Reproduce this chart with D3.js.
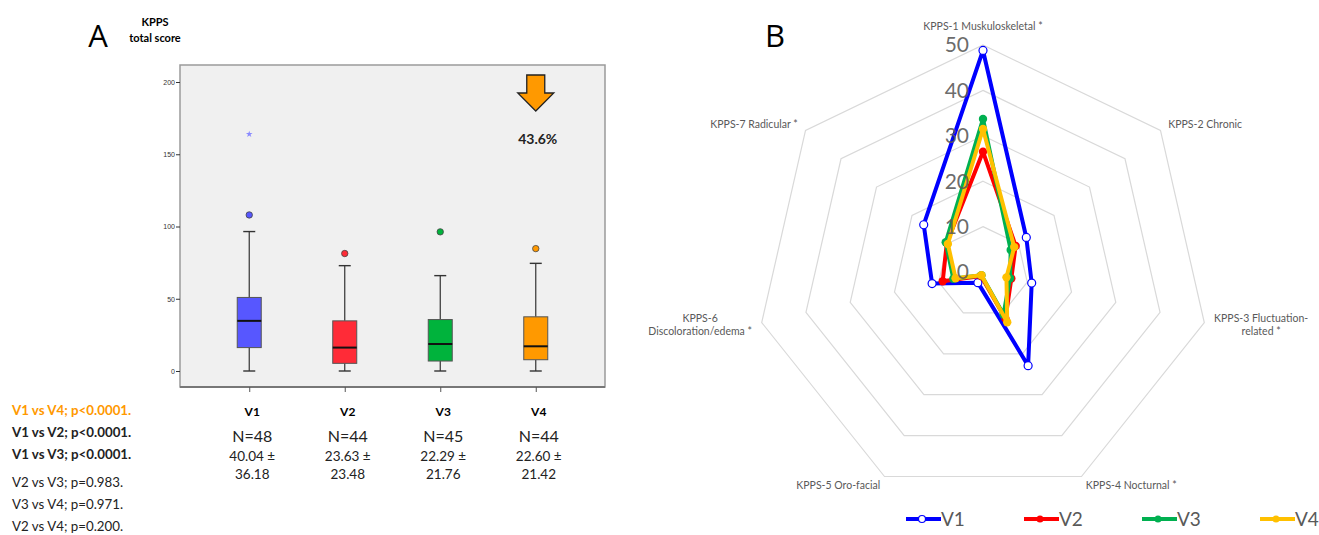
<!DOCTYPE html>
<html>
<head>
<meta charset="utf-8">
<script src="https://cdn.jsdelivr.net/npm/d3@7"></script>
<style>
    html, body { margin: 0; padding: 0; background: #fff; }
    svg { display: block; font-family: Lato, "Open Sans", sans-serif; }
</style>
</head>
<body>
<svg id="chart" width="1319" height="535"></svg>
<script>
// ---- panel A data (box plot of KPPS total score) ----
var visits = ["V1", "V2", "V3", "V4"];
var boxMin = [0, 0, 0, 0];
var boxQ1 = [16.2, 5.3, 6.9, 7.8];
var boxMedian = [34.7, 16.2, 18.7, 17.1];
var boxQ3 = [50.9, 34.7, 35.6, 37.5];
var boxMax = [96.5, 72.9, 66, 74.5];
var outliers = [[108], [81.3], [96.3], [84.7]];
var extremes = [[163.9], [], [], []];
var boxColors = ["#5757ff", "#ff2b37", "#00b33c", "#ff9900"];
var yTicks = [0, 50, 100, 150, 200];
var nCounts = [48, 44, 45, 44];
var means = ["40.04", "23.63", "22.29", "22.60"];
var sds = ["36.18", "23.48", "21.76", "21.42"];
var reduction = "43.6%";
var comparisons = ["V1 vs V4; p<0.0001.", "V1 vs V2; p<0.0001.", "V1 vs V3; p<0.0001.",
                   "V2 vs V3; p=0.983.", "V3 vs V4; p=0.971.", "V2 vs V4; p=0.200."];
var comparisonKind = ["highlight", "sig", "sig", "ns", "ns", "ns"];

// ---- panel B data (radar of KPPS domains) ----
var domains = [["KPPS-1 Muskuloskeletal *"], ["KPPS-2 Chronic"], ["KPPS-3 Fluctuation-", "related *"],
               ["KPPS-4 Nocturnal *"], ["KPPS-5 Oro-facial"], ["KPPS-6", "Discoloration/edema *"],
               ["KPPS-7 Radicular *"]];
var v1Scores = [48.8, 12.2, 11.0, 22.9, 2.6, 11.5, 16.7];
var v2Scores = [26.5, 9.2, 6.4, 11.4, 1.0, 9.1, 10.2];
var v3Scores = [33.7, 7.8, 6.1, 10.4, 0.8, 6.7, 10.5];
var v4Scores = [31.5, 8.8, 5.3, 12.3, 0.8, 6.2, 9.9];
var radarTicks = [0, 10, 20, 30, 40, 50];
var lineColors = ["#0000ff", "#ff0000", "#00b050", "#ffc000"];

var svg = d3.select("#chart");

// =================== panel A ===================
function drawBoxPanel() {
    var frame = { left: 180, right: 605, top: 65, bottom: 387 };
    var x = d3.scalePoint().domain(visits).range([frame.left, frame.right]).padding(0.725);
    var y = d3.scaleLinear().domain([0, 200]).range([371, 82]);

    svg.append("text").attr("x", 98).attr("y", 47).attr("text-anchor", "middle")
        .style("font-size", "31px").style("font-family", "'Open Sans', sans-serif").text("A");
    svg.append("text").attr("x", 155).attr("y", 26).attr("text-anchor", "middle")
        .style("font-size", "11px").style("font-weight", "bold").text("KPPS");
    svg.append("text").attr("x", 155).attr("y", 42).attr("text-anchor", "middle")
        .style("font-size", "11px").style("font-weight", "bold").text("total score");

    svg.append("rect").attr("x", frame.left).attr("y", frame.top)
        .attr("width", frame.right - frame.left).attr("height", frame.bottom - frame.top)
        .attr("fill", "#f0f0f0").attr("stroke", "#9a9a9a").attr("stroke-width", 1.5);
    svg.append("line").attr("x1", frame.left).attr("x2", frame.right)
        .attr("y1", frame.bottom).attr("y2", frame.bottom)
        .attr("stroke", "#777").attr("stroke-width", 2);

    // y axis
    var yAxis = svg.append("g").attr("transform", "translate(" + frame.left + ",0)")
        .call(d3.axisLeft(y).tickValues(yTicks).tickSize(4).tickPadding(1));
    yAxis.select(".domain").remove();
    yAxis.selectAll("line").attr("stroke", "#333");
    yAxis.selectAll("text").style("font-size", "7px").style("font-family", "'Liberation Sans', sans-serif").attr("fill", "#333");

    // x ticks
    var xAxis = svg.append("g").attr("transform", "translate(0," + frame.bottom + ")")
        .call(d3.axisBottom(x).tickSize(5).tickFormat(""));
    xAxis.select(".domain").remove();
    xAxis.selectAll("line").attr("stroke", "#555");

    var boxW = 24, capW = 12;
    visits.forEach(function (v, i) {
        var cx = x(v);
        var g = svg.append("g");
        // whiskers
        g.append("line").attr("x1", cx).attr("x2", cx).attr("y1", y(boxMax[i])).attr("y2", y(boxQ3[i]))
            .attr("stroke", "#333").attr("stroke-width", 1.2);
        g.append("line").attr("x1", cx).attr("x2", cx).attr("y1", y(boxQ1[i])).attr("y2", y(boxMin[i]))
            .attr("stroke", "#333").attr("stroke-width", 1.2);
        [boxMax[i], boxMin[i]].forEach(function (val) {
            g.append("line").attr("x1", cx - capW / 2).attr("x2", cx + capW / 2)
                .attr("y1", y(val)).attr("y2", y(val)).attr("stroke", "#333").attr("stroke-width", 1.4);
        });
        g.append("rect").attr("x", cx - boxW / 2).attr("y", y(boxQ3[i]))
            .attr("width", boxW).attr("height", y(boxQ1[i]) - y(boxQ3[i]))
            .attr("fill", boxColors[i]).attr("stroke", "#555").attr("stroke-width", 1);
        g.append("line").attr("x1", cx - boxW / 2).attr("x2", cx + boxW / 2)
            .attr("y1", y(boxMedian[i])).attr("y2", y(boxMedian[i]))
            .attr("stroke", "#111").attr("stroke-width", 2);
        outliers[i].forEach(function (o) {
            g.append("circle").attr("cx", cx).attr("cy", y(o)).attr("r", 3.2)
                .attr("fill", boxColors[i]).attr("stroke", "#444").attr("stroke-width", 0.8);
        });
        extremes[i].forEach(function (o) {
            g.append("path").attr("transform", "translate(" + cx + "," + y(o) + ")")
                .attr("d", d3.symbol().type(d3.symbolStar).size(14)())
                .attr("fill", "#8a8aff");
        });

        // labels under the plot
        svg.append("text").attr("x", cx + 3).attr("y", 416).attr("text-anchor", "middle")
            .style("font-size", "12px").style("font-weight", "bold").text(v);
        svg.append("text").attr("x", cx + 3).attr("y", 442).attr("text-anchor", "middle")
            .style("font-size", "16px").attr("fill", "#222").text("N=" + nCounts[i]);
        svg.append("text").attr("x", cx + 3).attr("y", 461).attr("text-anchor", "middle")
            .style("font-size", "13.5px").attr("fill", "#222").text(means[i] + " \u00b1");
        svg.append("text").attr("x", cx + 3).attr("y", 479).attr("text-anchor", "middle")
            .style("font-size", "13.5px").attr("fill", "#222").text(sds[i]);
    });

    // reduction arrow above V4
    var ax = x("V4"), ay = 75;
    var arrow = d3.path();
    arrow.moveTo(ax - 9, ay);
    arrow.lineTo(ax + 9, ay);
    arrow.lineTo(ax + 9, ay + 18);
    arrow.lineTo(ax + 18, ay + 18);
    arrow.lineTo(ax, ay + 36);
    arrow.lineTo(ax - 18, ay + 18);
    arrow.lineTo(ax - 9, ay + 18);
    arrow.closePath();
    svg.append("path").attr("d", arrow.toString()).attr("fill", "#ff9900")
        .attr("stroke", "#222").attr("stroke-width", 1.3).attr("stroke-linejoin", "miter");
    svg.append("text").attr("x", ax + 2).attr("y", 144).attr("text-anchor", "middle")
        .style("font-size", "14px").style("font-weight", "bold").attr("fill", "#222").text(reduction);

    // pairwise comparisons
    var rowY = [415, 437, 459, 487, 509, 531];
    comparisons.forEach(function (c, i) {
        var kind = comparisonKind[i];
        svg.append("text").attr("x", 12).attr("y", rowY[i])
            .style("font-size", "13.3px")
            .style("font-weight", kind == "ns" ? "normal" : "bold")
            .attr("fill", kind == "highlight" ? "#ff9900" : "#222")
            .text(c);
    });
}

// =================== panel B ===================
function drawRadarPanel() {
    var cx = 983, cy = 272;
    var r = d3.scaleLinear().domain([0, 50]).range([0, 227]);
    var n = domains.length;
    var angle = function (i) { return i * 2 * Math.PI / n; };
    var point = function (i, val) {
        return [cx + r(val) * Math.sin(angle(i)), cy - r(val) * Math.cos(angle(i))];
    };

    svg.append("text").attr("x", 775).attr("y", 47).attr("text-anchor", "middle")
        .style("font-size", "31px").style("font-family", "'Open Sans', sans-serif").text("B");

    // grid rings
    radarTicks.slice(1).forEach(function (t) {
        var pts = d3.range(n).map(function (i) { return point(i, t); });
        svg.append("polygon").attr("points", pts.map(function (p) { return p.join(","); }).join(" "))
            .attr("fill", "none").attr("stroke", "#d9d9d9").attr("stroke-width", 1.2);
    });

    // domain labels
    domains.forEach(function (lines, i) {
        var p = point(i, 52.2);
        var dx = Math.sin(angle(i));
        var t = svg.append("text").attr("y", p[1]).attr("text-anchor", "middle")
            .style("font-size", "10.5px").attr("fill", "#595959");
        lines.forEach(function (ln, k) {
            t.append("tspan").attr("x", 0).attr("dy", k == 0 ? (i == 0 ? "-0.45em" : (0.35 - (lines.length - 1) * 0.6) + "em") : "1.25em").text(ln);
        });
        var w = t.node().getBBox().width;
        var tx = p[0];
        if (dx > 0.1) tx = p[0] + w / 2;
        if (dx < -0.1) tx = p[0] - w / 2;
        t.selectAll("tspan").attr("x", tx);
    });

    // series
    var series = [v1Scores, v2Scores, v3Scores, v4Scores];
    var line = d3.line().curve(d3.curveLinearClosed);
    series.forEach(function (vals, s) {
        var pts = vals.map(function (v, i) { return point(i, v); });
        svg.append("path").attr("d", line(pts)).attr("fill", "none")
            .attr("stroke", lineColors[s]).attr("stroke-width", 4).attr("stroke-linejoin", "round");
        pts.forEach(function (p) {
            svg.append("circle").attr("cx", p[0]).attr("cy", p[1]).attr("r", s == 0 ? 4 : 4.2)
                .attr("fill", s == 0 ? "#fff" : lineColors[s])
                .attr("stroke", lineColors[s]).attr("stroke-width", s == 0 ? 1.2 : 0);
        });
    });

    // radial axis labels
    radarTicks.forEach(function (t) {
        svg.append("text").attr("x", cx - 14).attr("y", cy - r(t)).attr("dy", "0.35em")
            .attr("text-anchor", "end").style("font-size", "21px").attr("fill", "#595959")
            .attr("fill-opacity", 0.9).text(t);
    });

    // legend
    visits.forEach(function (nm, s) {
        var lx = 906 + s * 118, ly = 519;
        svg.append("line").attr("x1", lx).attr("x2", lx + 35).attr("y1", ly).attr("y2", ly)
            .attr("stroke", lineColors[s]).attr("stroke-width", 4);
        svg.append("circle").attr("cx", lx + 16).attr("cy", ly).attr("r", 3.5)
            .attr("fill", s == 0 ? "#fff" : lineColors[s])
            .attr("stroke", lineColors[s]).attr("stroke-width", s == 0 ? 1.2 : 0);
        svg.append("text").attr("x", lx + 35).attr("y", ly).attr("dy", "0.36em")
            .style("font-size", "19px").attr("fill", "#595959").text(nm);
    });
}

drawBoxPanel();
drawRadarPanel();
</script>
</body>
</html>
